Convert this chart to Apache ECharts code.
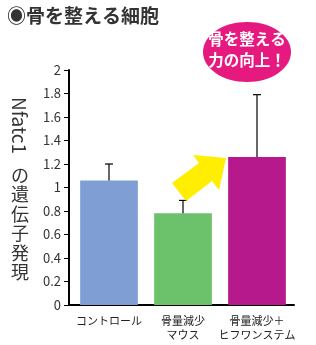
<!DOCTYPE html>
<html><head><meta charset="utf-8">
<script src="https://cdn.jsdelivr.net/npm/echarts@6/dist/echarts.min.js"></script>
<style>html,body{margin:0;padding:0;background:#fff}#c{width:316px;height:345px}</style>
</head><body><div id="c"></div>
<script>
const categories = ['コントロール', '骨量減少\nマウス', '骨量減少＋\nヒフワンステム'];
const values = [1.06, 0.78, 1.26];
const errorTops = [1.20, 0.89, 1.79];
const barColors = ['#7F9FD4', '#6CC26B', '#B5198C'];
const yTicks = [0, 0.2, 0.4, 0.6, 0.8, 1, 1.2, 1.4, 1.6, 1.8, 2];

const FONT = '"Noto Sans CJK JP", "Noto Sans", sans-serif';
const chart = echarts.init(document.getElementById('c'), null, {renderer: 'canvas'});
chart.setOption({
  animation: false,
  backgroundColor: '#fff',
  grid: {left: 72, right: 22, top: 70, bottom: 40},
  xAxis: {
    type: 'category', data: categories,
    axisLine: {lineStyle: {color: '#000', width: 2}},
    axisTick: {show: false},
    axisLabel: {color: '#222', fontSize: 11, fontFamily: FONT, lineHeight: 14, margin: 9, interval: 0}
  },
  yAxis: {
    type: 'value', min: 0, max: 2, interval: 0.2, offset: 3,
    axisLine: {show: true, lineStyle: {color: '#000', width: 2}},
    axisTick: {show: true, length: 5, lineStyle: {color: '#000', width: 1}},
    splitLine: {show: false},
    axisLabel: {color: '#333', fontSize: 13, fontFamily: FONT, margin: 8,
      formatter: v => { const t = yTicks.find(x => Math.abs(x - v) < 1e-6); return t === undefined ? '' : String(t); }}
  },
  series: [
    {type: 'bar', barWidth: '78%',
     data: values.map((v, i) => ({value: v, itemStyle: {color: barColors[i]}}))},
    {type: 'custom', z: 5,
     data: values.map((v, i) => [i, v, errorTops[i]]),
     renderItem: (params, api) => {
       const b = api.coord([api.value(0), api.value(1)]);
       const t = api.coord([api.value(0), api.value(2)]);
       const st = {stroke: '#000', lineWidth: 1.2};
       return {type: 'group', children: [
         {type: 'line', shape: {x1: b[0], y1: b[1], x2: t[0], y2: t[1]}, style: st},
         {type: 'line', shape: {x1: t[0] - 4, y1: t[1], x2: t[0] + 4, y2: t[1]}, style: st}
       ]};
     }}
  ],
  graphic: [
    {type: 'line', shape: {x1: 68, y1: 305, x2: 73, y2: 305}, style: {stroke: '#000', lineWidth: 2}},
    {type: 'text', left: 7, top: 6, style: {text: '◉骨を整える細胞', fontSize: 19, fontWeight: 'bold', fill: '#333', fontFamily: FONT}},
    {type: 'text', x: 29, y: 97, rotation: -Math.PI / 2,
     style: {text: 'Nfatc1', fontSize: 19, fill: '#333', fontFamily: FONT}},
    {type: 'text', x: 11, y: 165,
     style: {text: 'の\n遺\n伝\n子\n発\n現', fontSize: 18, lineHeight: 19.5, fill: '#333', fontFamily: FONT}},
    {type: 'polygon', z: 10,
     shape: {points: [[172, 183], [199, 163], [193, 155], [226, 158], [219, 190], [212, 181], [186, 201]]},
     style: {fill: '#FFEE00'}},
    {type: 'ellipse', z: 10, shape: {cx: 247, cy: 52, rx: 44, ry: 30}, style: {fill: '#E6197E'}},
    {type: 'text', z: 11, x: 247, y: 50,
     style: {text: '骨を整える\n力の向上！', fontSize: 15.5, lineHeight: 21, fontWeight: 'bold', fill: '#fff',
             align: 'center', verticalAlign: 'middle', fontFamily: FONT}}
  ]
});
</script></body></html>
